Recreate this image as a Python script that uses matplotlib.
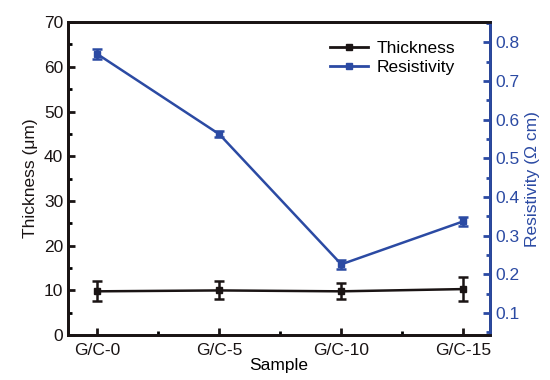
import numpy as np
import matplotlib
matplotlib.use('Agg')
import matplotlib.pyplot as plt
from matplotlib.ticker import AutoMinorLocator
from matplotlib.lines import Line2D

plt.rcParams['font.family'] = ['Liberation Sans', 'DejaVu Sans']

samples = ['G/C-0', 'G/C-5', 'G/C-10', 'G/C-15']
thickness = [9.8, 10.0, 9.8, 10.3]
thickness_err = [2.2, 2.0, 1.8, 2.6]
resistivity = [0.769, 0.562, 0.226, 0.337]
resistivity_err = [0.013, 0.008, 0.011, 0.011]

blue = '#2b4aa3'
dark = '#1a1414'

x = np.arange(len(samples))

fig, ax = plt.subplots(figsize=(5.5, 3.8), dpi=100)
fig.subplots_adjust(left=0.124, right=0.891, top=0.942, bottom=0.118)
ax2 = ax.twinx()

ax.errorbar(x, thickness, yerr=thickness_err, color=dark, lw=1.8, marker='s', ms=4,
            capsize=3.5, capthick=1.8, elinewidth=1.8)
ax2.errorbar(x, resistivity, yerr=resistivity_err, color=blue, lw=1.8, marker='s', ms=4,
             capsize=3.5, capthick=1.8, elinewidth=1.8)

ax.set_xlim(-0.24, 3.22)
ax.set_ylim(0, 70)
ax2.set_ylim(0.043, 0.852)
ax.set_xticks(x)
ax.set_xticklabels(samples)
ax.xaxis.set_minor_locator(AutoMinorLocator(2))
ax.yaxis.set_minor_locator(AutoMinorLocator(2))
ax2.set_yticks([0.1, 0.2, 0.3, 0.4, 0.5, 0.6, 0.7, 0.8])
ax2.yaxis.set_minor_locator(AutoMinorLocator(2))

ax.set_xlabel('Sample', fontsize=12.5, labelpad=0)
ax.set_ylabel('Thickness (μm)', fontsize=12.5, color=dark)
ax2.set_ylabel('Resistivity (Ω cm)', fontsize=12.5, color=blue)

for a in (ax, ax2):
    for s in a.spines.values():
        s.set_linewidth(2)
        s.set_color(dark)
ax2.spines['right'].set_color(blue)

ax.tick_params(axis='both', which='major', direction='in', length=5, width=2, labelsize=12.5, colors=dark)
ax.tick_params(axis='both', which='minor', direction='in', length=3, width=2)
ax.tick_params(axis='x', pad=6)
ax2.tick_params(axis='y', which='major', direction='in', length=5, width=2, labelsize=12.5, colors=blue)
ax2.tick_params(axis='y', which='minor', direction='in', length=3, width=2, colors=blue)

handles = [Line2D([], [], color=dark, lw=2, marker='s', ms=4),
           Line2D([], [], color=blue, lw=2, marker='s', ms=4)]
ax.legend(handles, ['Thickness', 'Resistivity'], loc='upper right', bbox_to_anchor=(0.955, 0.99),
          frameon=False, fontsize=12.5, handlelength=2.2, labelspacing=0.25, handletextpad=0.5)

fig.savefig('out.png', dpi=100)
